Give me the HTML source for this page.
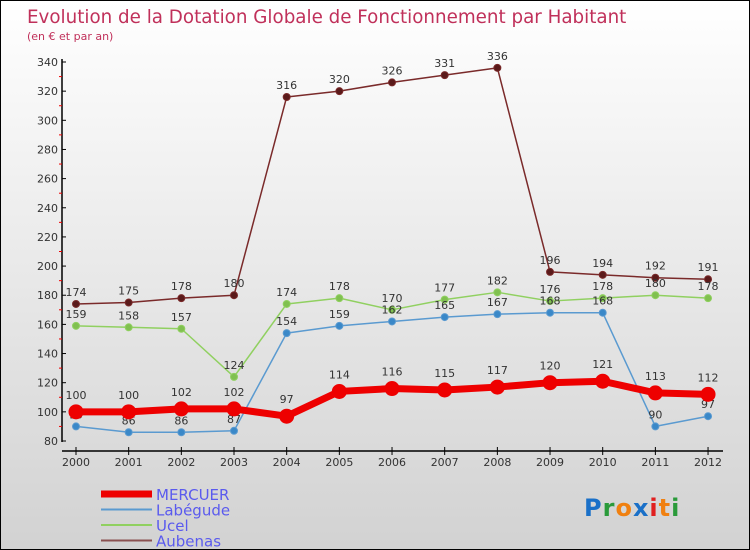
<!DOCTYPE html>
<html><head><meta charset="utf-8"><style>
body{margin:0;}
#c{position:relative;width:748px;height:548px;border:1px solid #000;background:linear-gradient(#ffffff,#d2d2d2);overflow:hidden;font-family:"DejaVu Sans","Liberation Sans",sans-serif;}
</style></head><body>
<div id="c">
<svg id="s" width="748" height="548" style="position:absolute;left:0;top:0" font-family="DejaVu Sans, Liberation Sans, sans-serif">
<text x="26" y="22" font-size="18.3" fill="#c0305a">Evolution de la Dotation Globale de Fonctionnement par Habitant</text>
<text x="26" y="39" font-size="11" fill="#c0305a">(en € et par an)</text>
<g id="g"></g>
<g font-size="24" font-weight="bold" style="letter-spacing:1px">
<text x="583" y="515"><tspan fill="#1a70c8">P</tspan><tspan fill="#2a9a3a">r</tspan><tspan fill="#f08010">o</tspan><tspan fill="#1a70c8">x</tspan><tspan fill="#e02020">i</tspan><tspan fill="#f08010">t</tspan><tspan fill="#2a9a3a">i</tspan></text>
</g>
</svg>
</div>
<script>
const years=["2000","2001","2002","2003","2004","2005","2006","2007","2008","2009","2010","2011","2012"];
const mercuer=[100,100,102,102,97,114,116,115,117,120,121,113,112];
const labegude=[90,86,86,87,154,159,162,165,167,168,168,90,97];
const ucel=[159,158,157,124,174,178,170,177,182,176,178,180,178];
const aubenas=[174,175,178,180,316,320,326,331,336,196,194,192,191];
const yTicks=[80,100,120,140,160,180,200,220,240,260,280,300,320,340];
const NS="http://www.w3.org/2000/svg";
const g=document.getElementById('g');
function xs(i){return 75+i*52.67;}
function ys(v){return 440-(v-80)*379/260;}
function el(t,a,p){const e=document.createElementNS(NS,t);for(const k in a)e.setAttribute(k,a[k]);(p||g).appendChild(e);return e;}
let ya=el('line',{x1:61,y1:58,x2:61,y2:441,stroke:'#000','stroke-width':1.5});


let xa=el('line',{x1:61,y1:450,x2:722,y2:450,stroke:'#000','stroke-width':1.5});


yTicks.forEach((v,i)=>{
  el('line',{x1:61,y1:ys(v),x2:65,y2:ys(v),stroke:'#000'});
  if(i<yTicks.length-1)el('line',{x1:58,y1:ys(v+10),x2:61,y2:ys(v+10),stroke:'#e00'});
  const t=el('text',{x:57,y:ys(v)+4,'font-size':11,fill:'#333','text-anchor':'end'});
  t.textContent=v;
  
  
});
years.forEach((y,i)=>{
  el('line',{x1:xs(i),y1:446,x2:xs(i),y2:454,stroke:'#000'});
  const t=el('text',{x:xs(i),y:465,'font-size':11,fill:'#333','text-anchor':'middle'});
  t.textContent=y;
  
  
});
function series(data,color,w,r,name,dark,off){
  const pts=data.map((v,i)=>xs(i)+','+ys(v)).join(' ');
  const l=el('polyline',{points:pts,fill:'none',stroke:color,'stroke-width':w,'stroke-linejoin':'round'});
  
  
  data.forEach((v,i)=>{
    const c=el('circle',{cx:xs(i),cy:ys(v),r:r,fill:dark,stroke:color,'stroke-width':1});
    
    
    const t=el('text',{x:xs(i),y:ys(v)-off,'font-size':11,fill:'#333','text-anchor':'middle'});
    t.textContent=v;
    
    
  });
}
series(aubenas,'#7a2a2a',1.5,3.5,'aubenas','#5a1a1a',8);
series(ucel,'#90d060',1.5,3.5,'ucel','#80c050',8);
series(labegude,'#5a9ad0',1.5,3.5,'labegude','#3a88c8',8);
series(mercuer,'#ee0000',7,7,'mercuer','#ee0000',13);
const leg=[['MERCUER','#ee0000',7],['Labégude','#5a9ad0',2],['Ucel','#90d060',2],['Aubenas','#8a5050',2]];
leg.forEach((d,i)=>{
  const y=493+i*15.5;
  const l=el('line',{x1:100,y1:y,x2:151,y2:y,stroke:d[1],'stroke-width':d[2]});
  
  
  const t=el('text',{x:155,y:y+6,'font-size':15,fill:'#5a5aee'});
  t.textContent=d[0];
  
  
});
</script>
</body></html>
